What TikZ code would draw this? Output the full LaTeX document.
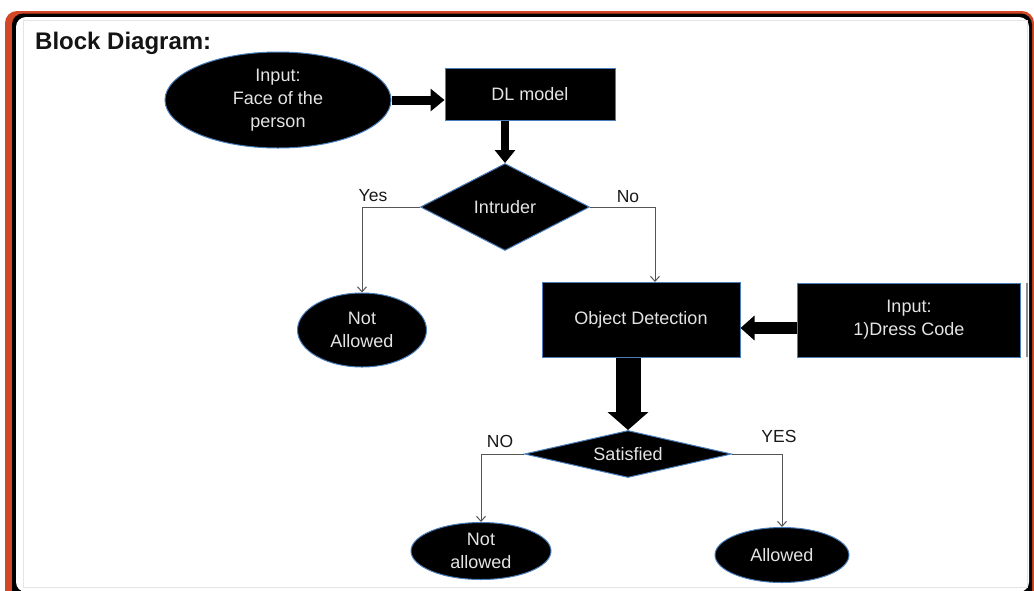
\documentclass[tikz,border=0pt]{standalone}
\usepackage{fontspec}
\setmainfont{Liberation Sans}
\usetikzlibrary{shapes.geometric,arrows.meta}
\definecolor{slideorange}{HTML}{D24726}
\definecolor{edgeblue}{HTML}{4A7EBB}
\definecolor{nodetext}{HTML}{E4E4E4}
\definecolor{linegray}{HTML}{555555}
\tikzset{
  blk/.style={fill=black, draw=edgeblue, line width=1pt, text=nodetext,
    font=\fontsize{18}{23}\selectfont, align=center, inner sep=0pt},
  box/.style={blk, rectangle},
  oval/.style={blk, ellipse},
  decision/.style={blk, diamond},
  conn/.style={draw=linegray, line width=1pt, -{Straight Barb[length=5pt,width=9pt]}},
  lbl/.style={text=black!90, font=\fontsize{17.5}{20}\selectfont, inner sep=0pt},
  fat/.style={draw=black, line width=#1}
}
\begin{document}
\begin{tikzpicture}[x=1pt,y=-1pt]
\useasboundingbox (0,0) rectangle (1034,590);
\clip (0,0) rectangle (1034,590);
% slide frame
\fill[white] (0,0) rectangle (1034,590);
\fill[slideorange, rounded corners=12pt] (5,11) rectangle (1034,620);
\fill[black, rounded corners=11pt] (12,13.5) rectangle (1032,610);
\fill[white, rounded corners=10pt] (16,17) rectangle (1029,592);
\draw[black!10, line width=1pt] (23,20) rectangle (1027,587);
\draw[black!45, line width=2pt] (1027,283) -- (1027,357);
% title
\node[anchor=base west, inner sep=0pt, font=\fontsize{24}{28}\selectfont\bfseries, text=black!92]
  (title) at (35,49) {Block Diagram:};
% nodes
\node[oval, minimum width=226pt, minimum height=96pt] (inp) at (278,100) {Input:\\Face of the\\person};
\node[box, minimum width=170pt, minimum height=52pt] (dl) at (530,94) {DL model};
\node[decision, aspect=2, minimum width=169pt, minimum height=87pt] (intr) at (505,207) {Intruder};
\node[oval, minimum width=129pt, minimum height=74pt] (na1) at (362,330) {Not\\Allowed};
\node[box, minimum width=198pt, minimum height=75pt] (obj) at (641,320) {Object Detection};
\node[box, minimum width=223pt, minimum height=74pt] (dc) at (909,320) {Input:\\1)Dress Code};
\node[decision, aspect=4, minimum width=207pt, minimum height=47pt] (sat) at (628,454) {Satisfied};
\node[oval, minimum width=140pt, minimum height=57pt] (na2) at (481,551) {Not\\allowed};
\node[oval, minimum width=134pt, minimum height=55pt] (ok) at (782,555) {Allowed};
% thick flow arrows
\draw[fat=9pt, -{Triangle[length=14pt,width=22pt]}] (inp.east) -- (inp.east -| dl.west);
\draw[fat=8pt, -{Triangle[length=13pt,width=20pt]}] (dl.south -| intr.north) -- (intr.north);
\draw[fat=12pt, -{Triangle[length=14pt,width=24pt]}] ([yshift=-8pt]dc.west) -- ([yshift=-8pt]obj.east);
\draw[fat=25pt, -{Triangle[length=18pt,width=40pt]}] (obj.south -| sat.north) -- (sat.north);
% decision branches
\draw[conn] (intr.west) -| (na1.north);
\draw[conn] (intr.east) -| ([xshift=14pt]obj.north);
\draw[conn] (sat.west) -| (na2.north);
\draw[conn] (sat.east) -| (ok.north);
% branch labels
\node[lbl] (yes1) at (373,196) {Yes};
\node[lbl] (no1) at (628,197) {No};
\node[lbl] (no2) at (500,441) {NO};
\node[lbl] (yes2) at (779,436) {YES};
\end{tikzpicture}
\end{document}
